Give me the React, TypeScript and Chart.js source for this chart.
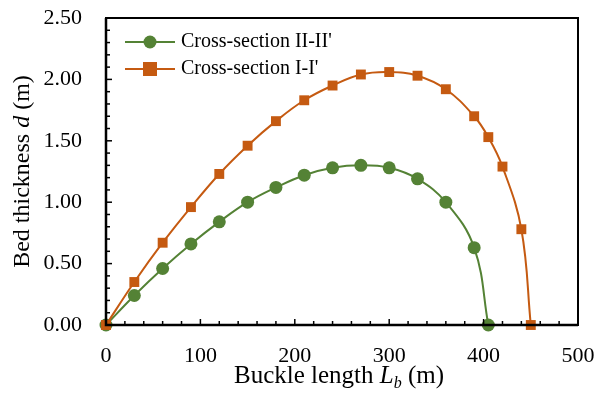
import React, { useEffect, useRef } from "react";
import { Chart, registerables } from "chart.js";

Chart.register(...registerables);

const xII = [0, 30, 60, 90, 120, 150, 180, 210, 240, 270, 300, 330, 360, 390, 405];
const dII = [0, 0.24, 0.46, 0.66, 0.84, 1.0, 1.12, 1.22, 1.28, 1.3, 1.28, 1.19, 1.0, 0.63, 0];
const xI = [0, 30, 60, 90, 120, 150, 180, 210, 240, 270, 300, 330, 360, 390, 405, 420, 440, 450];
const dI = [0, 0.35, 0.67, 0.96, 1.23, 1.46, 1.66, 1.83, 1.95, 2.04, 2.06, 2.03, 1.92, 1.7, 1.53, 1.29, 0.78, 0];
const seriesNames = ["Cross-section II-II'", "Cross-section I-I'"];
const xTicks = [0, 100, 200, 300, 400, 500];
const yTicks = [0, 0.5, 1.0, 1.5, 2.0, 2.5];

const GREEN = "#548235";
const ORANGE = "#C55A11";
const FONT = "'Liberation Serif', 'Times New Roman', serif";

const decorPlugin = {
  id: "decor",
  afterDatasetsDraw(chart: any) {
    const ctx = chart.ctx;
    const { left, right, top, bottom } = chart.chartArea;
    const xs = chart.scales.x;
    const ys = chart.scales.y;
    ctx.save();
    ctx.strokeStyle = "#000";
    ctx.lineWidth = 2;
    ctx.strokeRect(left, top, right - left, bottom - top);
    ctx.lineWidth = 2.5;
    ctx.beginPath();
    ctx.moveTo(left, top);
    ctx.lineTo(left, bottom);
    ctx.lineTo(right, bottom);
    ctx.stroke();
    ctx.lineWidth = 1.5;
    for (let v = 0; v <= 500; v += 20) {
      const px = xs.getPixelForValue(v);
      const len = v % 100 === 0 ? 6 : 4;
      ctx.beginPath();
      ctx.moveTo(px, bottom);
      ctx.lineTo(px, bottom - len);
      ctx.stroke();
    }
    for (let i = 0; i <= 25; i++) {
      const v = i / 10;
      const py = ys.getPixelForValue(v);
      const len = i % 5 === 0 ? 6 : 4;
      ctx.beginPath();
      ctx.moveTo(left, py);
      ctx.lineTo(left + len, py);
      ctx.stroke();
    }
    const items = [
      { name: seriesNames[0], color: GREEN, shape: "circle" },
      { name: seriesNames[1], color: ORANGE, shape: "square" },
    ];
    items.forEach((it, i) => {
      const y = 42 + i * 27;
      ctx.strokeStyle = it.color;
      ctx.lineWidth = 2;
      ctx.beginPath();
      ctx.moveTo(125, y);
      ctx.lineTo(175, y);
      ctx.stroke();
      ctx.fillStyle = it.color;
      if (it.shape === "circle") {
        ctx.beginPath();
        ctx.arc(150, y, 6.5, 0, Math.PI * 2);
        ctx.fill();
      } else {
        ctx.fillRect(143, y - 7, 14, 14);
      }
      ctx.fillStyle = "#000";
      ctx.font = `20px ${FONT}`;
      ctx.textBaseline = "middle";
      ctx.textAlign = "left";
      ctx.fillText(it.name, 181, y);
    });
    ctx.fillStyle = "#000";
    ctx.textBaseline = "alphabetic";
    const partsX = [
      { t: "Buckle length ", f: `25px ${FONT}`, dy: 0 },
      { t: "L", f: `italic 25px ${FONT}`, dy: 0 },
      { t: "b", f: `italic 16px ${FONT}`, dy: 5 },
      { t: " (m)", f: `25px ${FONT}`, dy: 0 },
    ];
    let w = 0;
    partsX.forEach((p) => {
      ctx.font = p.f;
      w += ctx.measureText(p.t).width;
    });
    let cx = 339 - w / 2;
    const by = 383;
    partsX.forEach((p) => {
      ctx.font = p.f;
      ctx.fillText(p.t, cx, by + p.dy);
      cx += ctx.measureText(p.t).width;
    });
    const partsY = [
      { t: "Bed thickness ", f: `24px ${FONT}` },
      { t: "d", f: `italic 24px ${FONT}` },
      { t: " (m)", f: `24px ${FONT}` },
    ];
    w = 0;
    partsY.forEach((p) => {
      ctx.font = p.f;
      w += ctx.measureText(p.t).width;
    });
    ctx.translate(29, (top + bottom) / 2);
    ctx.rotate(-Math.PI / 2);
    let cy = -w / 2;
    partsY.forEach((p) => {
      ctx.font = p.f;
      ctx.fillText(p.t, cy, 0);
      cy += ctx.measureText(p.t).width;
    });
    ctx.restore();
  },
};

export default function App() {
  const ref = useRef<HTMLCanvasElement | null>(null);
  useEffect(() => {
    document.body.style.margin = "0";
    const canvas = ref.current;
    if (!canvas) return;
    const chart = new Chart(canvas, {
      type: "line",
      data: {
        datasets: [
          {
            label: seriesNames[0],
            data: xII.map((x, i) => ({ x, y: dII[i] })),
            borderColor: GREEN,
            backgroundColor: GREEN,
            borderWidth: 2,
            pointStyle: "circle",
            pointRadius: 6.5,
            pointBorderWidth: 0,
            tension: 0.4,
            clip: false,
            order: 2,
          },
          {
            label: seriesNames[1],
            data: xI.map((x, i) => ({ x, y: dI[i] })),
            borderColor: ORANGE,
            backgroundColor: ORANGE,
            borderWidth: 2,
            pointStyle: "rect",
            pointRadius: 7,
            pointBorderWidth: 0,
            tension: 0.4,
            clip: false,
            order: 1,
          },
        ],
      },
      options: {
        animation: false,
        responsive: false,
        layout: { padding: { left: 0, right: 18, top: 18, bottom: 0 } },
        plugins: { legend: { display: false }, tooltip: { enabled: false } },
        scales: {
          x: {
            type: "linear",
            min: 0,
            max: 500,
            afterBuildTicks: (s: any) => {
              s.ticks = xTicks.map((v) => ({ value: v }));
            },
            afterFit: (s: any) => {
              s.height = 68;
              s.paddingLeft = 0;
              s.paddingRight = 0;
              s.paddingTop = 0;
              s.paddingBottom = 0;
            },
            grid: { display: true, drawOnChartArea: false, drawTicks: false, color: "rgba(0,0,0,0)" },
            border: { display: false },
            ticks: { color: "#000", font: { family: FONT, size: 22 }, padding: 18, maxRotation: 0 },
          },
          y: {
            type: "linear",
            min: 0,
            max: 2.5,
            afterBuildTicks: (s: any) => {
              s.ticks = yTicks.map((v) => ({ value: v }));
            },
            afterFit: (s: any) => {
              s.width = 106;
              s.paddingLeft = 0;
              s.paddingRight = 0;
              s.paddingTop = 0;
              s.paddingBottom = 0;
            },
            grid: { display: true, drawOnChartArea: false, drawTicks: false, color: "rgba(0,0,0,0)" },
            border: { display: false },
            ticks: {
              color: "#000",
              font: { family: FONT, size: 22 },
              padding: 24,
              callback: (v: any) => Number(v).toFixed(2),
            },
          },
        },
      },
      plugins: [decorPlugin],
    });
    return () => chart.destroy();
  }, []);
  return (
    <div style={{ width: 596, height: 393 }}>
      <canvas ref={ref} width={596} height={393} style={{ display: "block" }} />
    </div>
  );
}
